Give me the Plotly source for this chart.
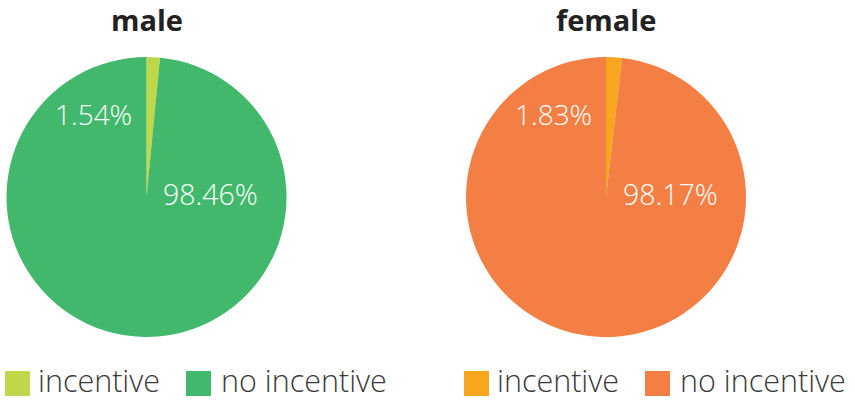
import plotly.graph_objects as go

W, H = 855, 401

groups = ["male", "female"]
categories = ["incentive", "no incentive"]
male_values = [1.54, 98.46]
female_values = [1.83, 98.17]
male_colors = ["#BFD84A", "#41B86B"]
female_colors = ["#F9A61F", "#F47F45"]

FONT = "Open Sans"
TEXT_COLOR = "#3a3a3a"


def px(x):
    return x / W


def py(y):
    return 1 - y / H


pie_specs = [
    dict(name="male", values=male_values, colors=male_colors, left=6.5),
    dict(name="female", values=female_values, colors=female_colors, left=466),
]
PIE_TOP, DIAM = 57, 280

fig = go.Figure()
annotations = []
shapes = []

for spec in pie_specs:
    left = spec["left"]
    cx = left + DIAM / 2
    cy = PIE_TOP + DIAM / 2
    fig.add_trace(go.Pie(
        labels=categories,
        values=spec["values"],
        marker=dict(colors=spec["colors"], line=dict(width=0)),
        sort=False,
        direction="counterclockwise",
        rotation=0,
        textinfo="none",
        hoverinfo="label+percent",
        showlegend=False,
        domain=dict(x=[px(left), px(left + DIAM)], y=[py(PIE_TOP + DIAM), py(PIE_TOP)]),
    ))
    annotations.append(dict(
        x=px(cx), y=py(19), xref="paper", yref="paper", xanchor="center", yanchor="middle",
        text=f"<b>{spec['name']}</b>", showarrow=False,
        font=dict(family=FONT, size=29, color="#222222"),
    ))
    small, big = spec["values"]
    annotations.append(dict(
        x=px(cx - 53), y=py(cy - 83), xref="paper", yref="paper", xanchor="center", yanchor="middle",
        text=f"{small:.2f}%", showarrow=False,
        font=dict(family=FONT, size=28, color="white", weight=300),
    ))
    annotations.append(dict(
        x=px(cx + 64), y=py(cy - 3), xref="paper", yref="paper", xanchor="center", yanchor="middle",
        text=f"{big:.2f}%", showarrow=False,
        font=dict(family=FONT, size=28.5, color="white", weight=300),
    ))

legend_specs = [
    dict(colors=male_colors, sq=[5, 186], tx=[36, 219]),
    dict(colors=female_colors, sq=[464, 645], tx=[495, 678]),
]
for leg in legend_specs:
    for i, cat in enumerate(categories):
        x0 = leg["sq"][i]
        shapes.append(dict(
            type="rect", xref="paper", yref="paper",
            x0=px(x0), x1=px(x0 + 25), y0=py(396), y1=py(371),
            fillcolor=leg["colors"][i], line=dict(width=0),
        ))
        annotations.append(dict(
            x=px(leg["tx"][i]), y=py(379.5), xref="paper", yref="paper",
            xanchor="left", yanchor="middle", text=cat, showarrow=False,
            font=dict(family=FONT, size=30.5, color=TEXT_COLOR, weight=300),
        ))

fig.update_layout(
    width=W, height=H,
    margin=dict(l=0, r=0, t=0, b=0),
    paper_bgcolor="white", plot_bgcolor="white",
    annotations=annotations, shapes=shapes,
    showlegend=False,
)

fig.write_html(
    "out.html",
    config={"displayModeBar": False},
    post_script="document.body.style.margin='0';document.body.style.overflow='hidden';",
)
